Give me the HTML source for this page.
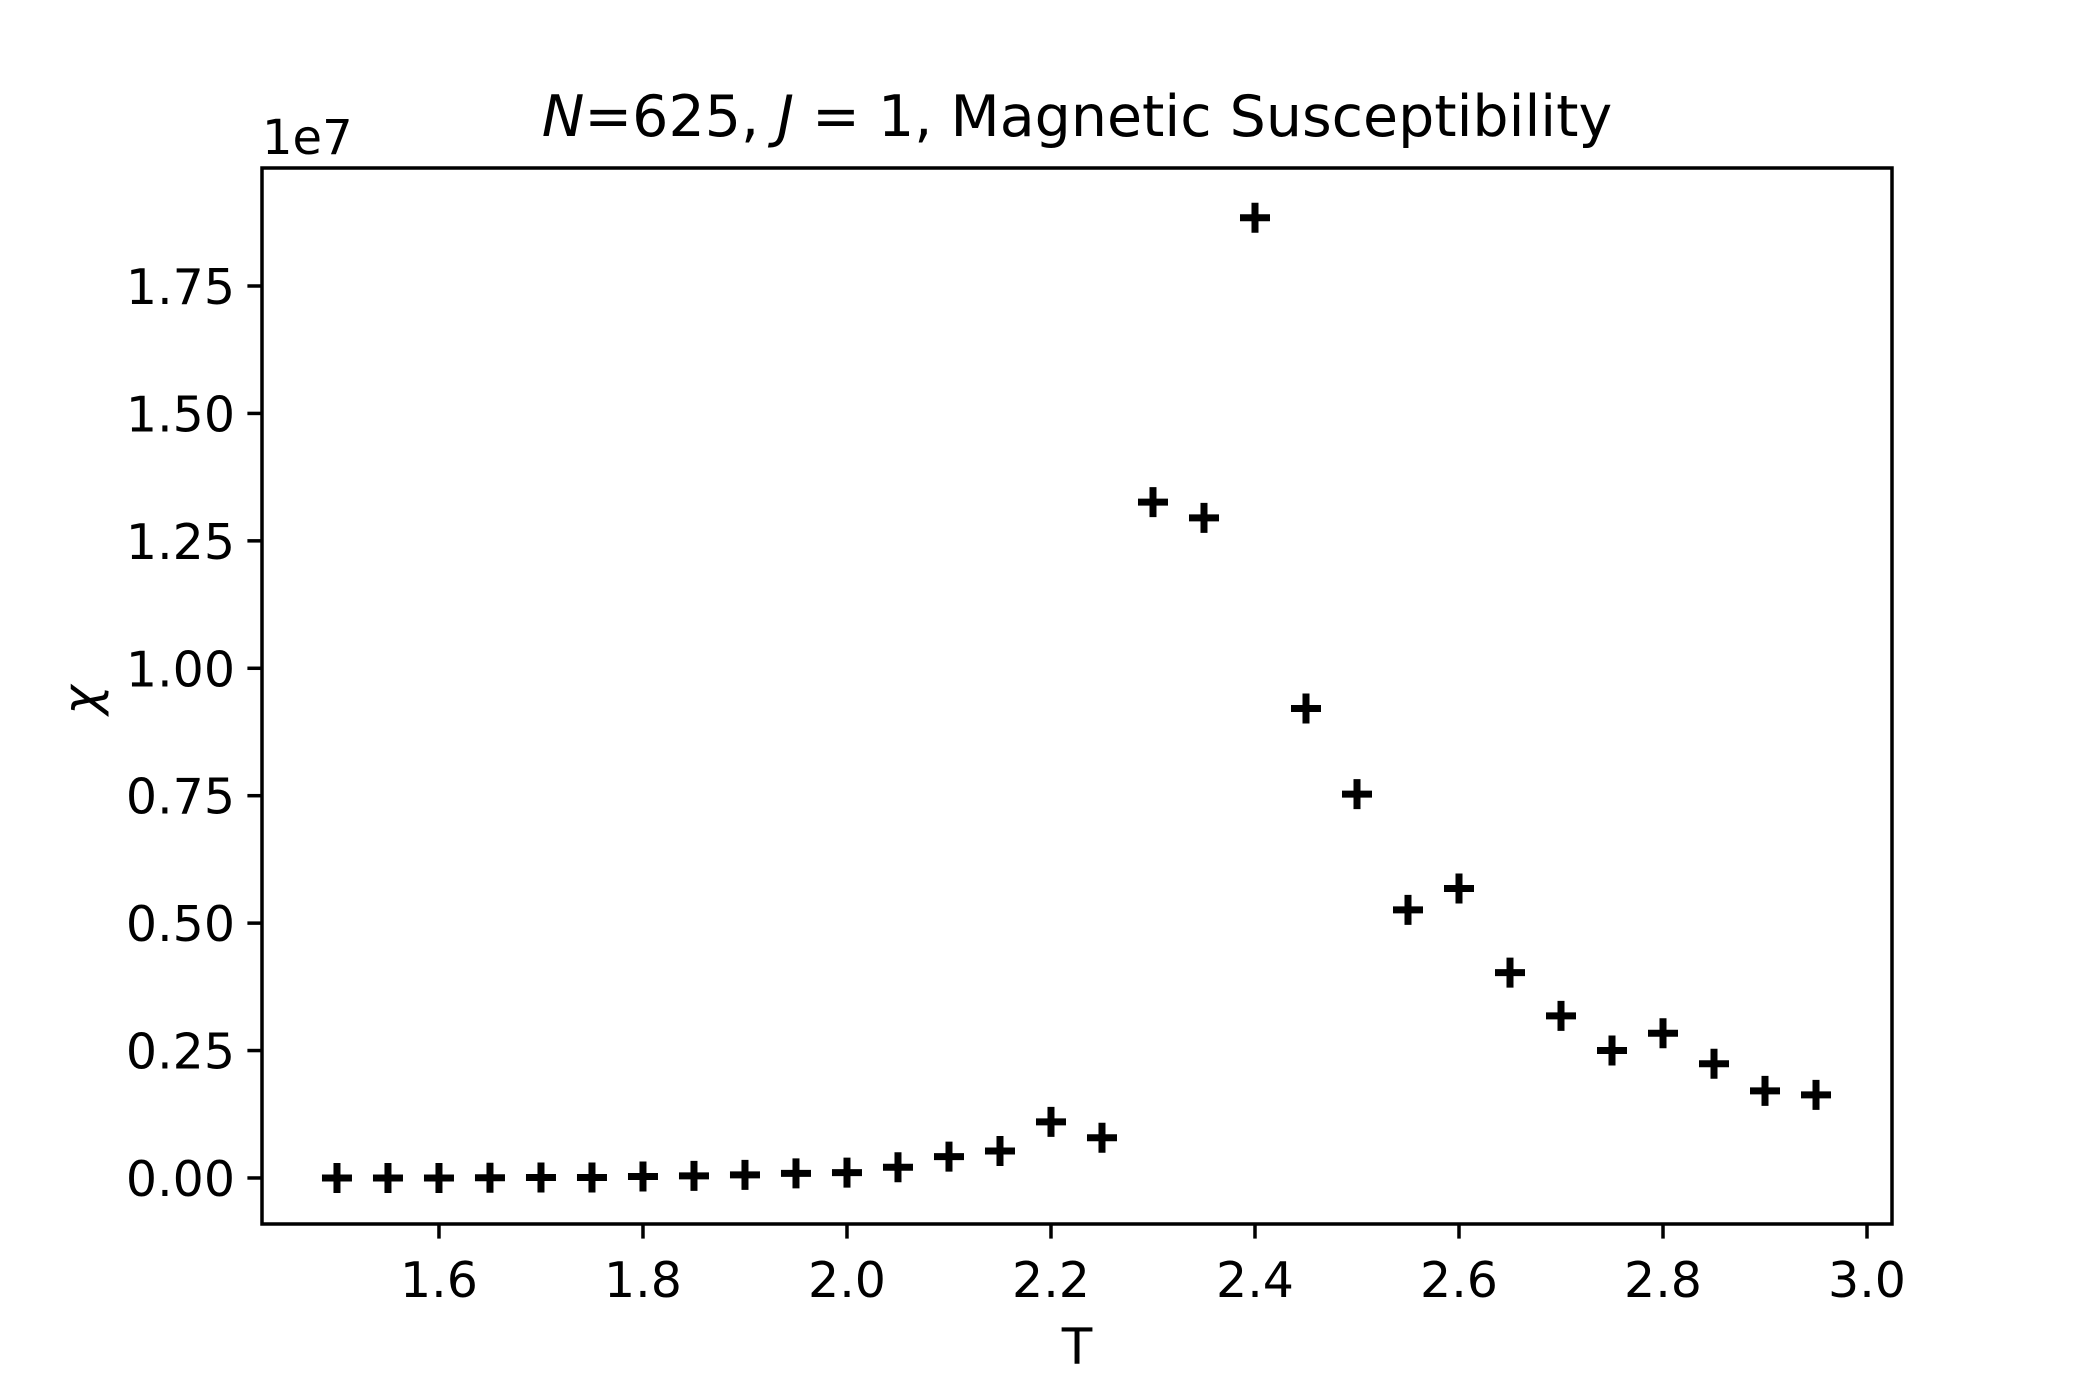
<!DOCTYPE html>
<html><head><meta charset="utf-8"><style>
html,body{margin:0;padding:0;background:#fff;}
svg{display:block;font-family:"DejaVu Sans","Liberation Sans",sans-serif;}
</style></head><body>
<svg id="chart" width="2100" height="1400" viewBox="0 0 2100 1400" xmlns="http://www.w3.org/2000/svg">
<rect width="2100" height="1400" fill="#fff"/>
<text x="1077" y="136" font-size="57" text-anchor="middle"><tspan font-style="italic">N</tspan>=625, <tspan font-style="italic">J</tspan> = 1, Magnetic Susceptibility</text>
<text x="262" y="154" font-size="48">1e7</text>
<g id="xticks"></g>
<g id="yticks"></g>
<g id="points"></g>
<rect x="262" y="168" width="1630" height="1056" fill="none" stroke="#000" stroke-width="3.5"/>
<text x="1077" y="1364" font-size="50" text-anchor="middle">T</text>
<text x="0" y="0" font-size="50" font-style="italic" text-anchor="middle" transform="translate(98,700) rotate(-90)">χ</text>
</svg>
<script>
const temps = [1.5,1.55,1.6,1.65,1.7,1.75,1.8,1.85,1.9,1.95,2.0,2.05,2.1,2.15,2.2,2.25,2.3,2.35,2.4,2.45,2.5,2.55,2.6,2.65,2.7,2.75,2.8,2.85,2.9,2.95];
const chi = [0,0,0,0.0005,0.001,0.001,0.003,0.004,0.006,0.009,0.0105,0.021,0.042,0.053,0.11,0.079,1.326,1.295,1.884,0.921,0.753,0.526,0.568,0.403,0.318,0.25,0.284,0.224,0.171,0.163];
const xTickVals = [1.6,1.8,2.0,2.2,2.4,2.6,2.8,3.0];
const xTickLabels = ["1.6","1.8","2.0","2.2","2.4","2.6","2.8","3.0"];
const yTickVals = [0,0.25,0.5,0.75,1.0,1.25,1.5,1.75];
const yTickLabels = ["0.00","0.25","0.50","0.75","1.00","1.25","1.50","1.75"];

const L=262,R=1892,T=168,B=1224;
const xmin=1.4265,xmax=3.0245,ymin=-0.0903,ymax=1.9815;
function xs(v){return L+(v-xmin)/(xmax-xmin)*(R-L);}
function ys(v){return B-(v-ymin)/(ymax-ymin)*(B-T);}
const NS="http://www.w3.org/2000/svg";
function mk(tag,attrs,parent){const e=document.createElementNS(NS,tag);for(const k in attrs)e.setAttribute(k,attrs[k]);parent.appendChild(e);return e;}
const gx=document.getElementById('xticks'),gy=document.getElementById('yticks'),gp=document.getElementById('points');
xTickVals.forEach((v,i)=>{
  const x=xs(v);
  const l=mk('line',{x1:x,x2:x,y1:B,y2:B+14.6,stroke:'#000','stroke-width':3.5},gx);
  
  
  const t=mk('text',{x:x,y:1297,'font-size':49,'text-anchor':'middle'},gx);
  t.textContent=xTickLabels[i];
  
  
});
yTickVals.forEach((v,i)=>{
  const y=ys(v);
  const l=mk('line',{x1:L-14.6,x2:L,y1:y,y2:y,stroke:'#000','stroke-width':3.5},gy);
  
  
  const t=mk('text',{x:L-27,y:y+18,'font-size':49,'text-anchor':'end'},gy);
  t.textContent=yTickLabels[i];
  
  
});
temps.forEach((v,i)=>{
  const x=xs(v),y=ys(chi[i]),h=15;
  const p=mk('path',{d:`M${x-h},${y}H${x+h}M${x},${y-h}V${y+h}`,stroke:'#000','stroke-width':7,fill:'none'},gp);
  
  
});
</script>
</body></html>
